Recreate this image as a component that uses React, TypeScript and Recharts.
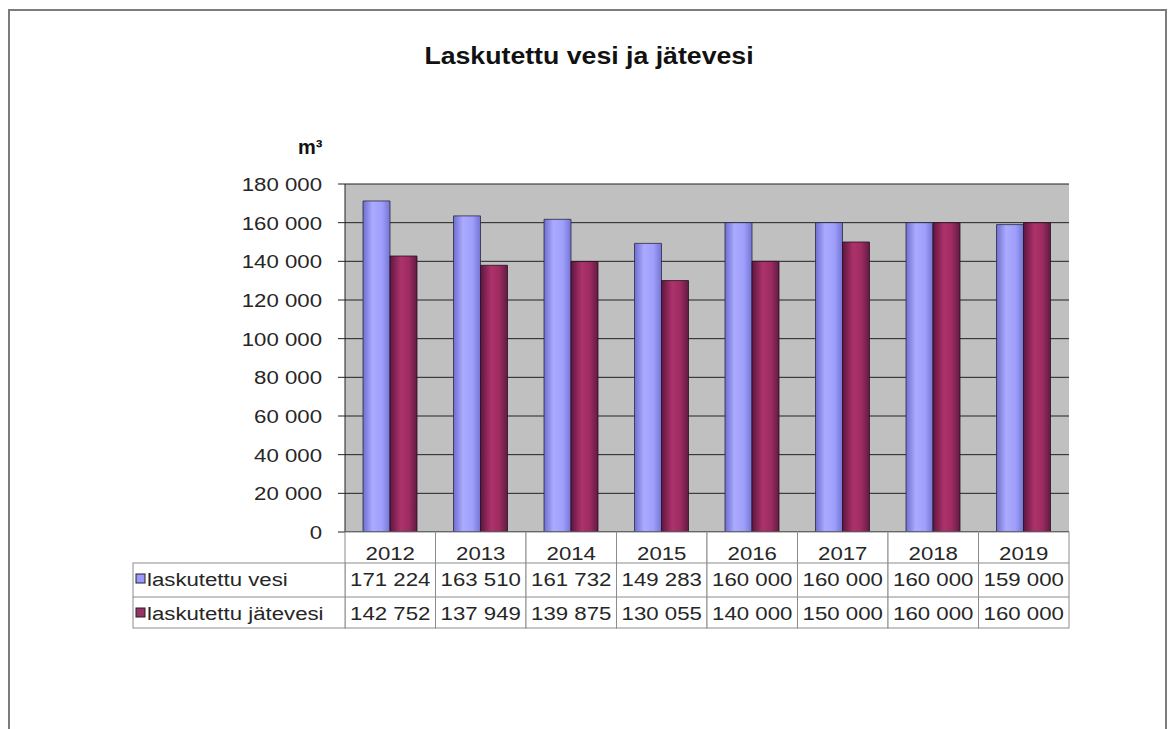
import { BarChart, Bar, XAxis, YAxis, CartesianGrid } from 'recharts';

const years = ['2012', '2013', '2014', '2015', '2016', '2017', '2018', '2019'];
const vesi = [171224, 163510, 161732, 149283, 160000, 160000, 160000, 159000];
const jatevesi = [142752, 137949, 139875, 130055, 140000, 150000, 160000, 160000];
const seriesNames = ['laskutettu vesi', 'laskutettu jätevesi'];
const yTicks = [0, 20000, 40000, 60000, 80000, 100000, 120000, 140000, 160000, 180000];

const data = years.map((year, i) => ({ year, vesi: vesi[i], jatevesi: jatevesi[i] }));

const PLOT_LEFT = 345;
const PLOT_RIGHT = 1069;
const BAND = (PLOT_RIGHT - PLOT_LEFT) / years.length;
const TABLE_LEFT = 133;
const FONT = 'Arial, "Liberation Sans", sans-serif';
const STRETCH = 1.17;
const BORDER = '#8c8c8c';

const fmt = (n: number) => n.toString().replace(/\B(?=(\d{3})+(?!\d))/g, ' ');

const StretchText = ({ x, y, anchor, children }: any) => (
    <text
        transform={`translate(${x},${y}) scale(${STRETCH},1)`}
        textAnchor={anchor}
        fontFamily={FONT}
        fontSize={19}
        fill="#262626"
    >
        {children}
    </text>
);

const YTick = ({ x, y, payload }: any) => (
    <StretchText x={x} y={y + 7} anchor="end">{fmt(payload.value)}</StretchText>
);

// the data table under the plot, drawn one column per category tick
const TableTick = ({ x, y, payload, index }: any) => {
    const i = payload.index ?? index;
    const left = x - BAND / 2;
    const top = y;
    const r1 = top + 31;
    const r2 = top + 65;
    const bottom = top + 96;
    return (
        <g>
            <rect x={left} y={top} width={BAND} height={bottom - top} fill="#fff" stroke={BORDER} />
            <line x1={left} x2={left + BAND} y1={r1} y2={r1} stroke={BORDER} />
            <line x1={left} x2={left + BAND} y1={r2} y2={r2} stroke={BORDER} />
            <StretchText x={x} y={top + 28} anchor="middle">{payload.value}</StretchText>
            <StretchText x={x} y={r1 + 23} anchor="middle">{fmt(vesi[i])}</StretchText>
            <StretchText x={x} y={r2 + 23} anchor="middle">{fmt(jatevesi[i])}</StretchText>
            {i === 0 && (
                <g>
                    <rect x={TABLE_LEFT} y={r1} width={left - TABLE_LEFT} height={bottom - r1} fill="#fff" stroke={BORDER} />
                    <line x1={TABLE_LEFT} x2={left} y1={r2} y2={r2} stroke={BORDER} />
                    <rect x={TABLE_LEFT + 3} y={r1 + 11} width={9} height={9} fill="#9999ff" stroke="#222" />
                    <rect x={TABLE_LEFT + 3} y={r2 + 11} width={9} height={9} fill="#993366" stroke="#222" />
                    <StretchText x={TABLE_LEFT + 14} y={r1 + 23} anchor="start">{seriesNames[0]}</StretchText>
                    <StretchText x={TABLE_LEFT + 14} y={r2 + 23} anchor="start">{seriesNames[1]}</StretchText>
                </g>
            )}
        </g>
    );
};

export default function App() {
    return (
        <div style={{ position: 'relative', width: 1173, height: 729, overflow: 'hidden', background: '#fff' }}>
            <style>{'body{margin:0;overflow:hidden}'}</style>
            <div style={{
                position: 'absolute', left: 8, top: 9, width: 1159, height: 760,
                border: '2px solid #7c7c7c', boxSizing: 'border-box'
            }} />
            <div style={{
                position: 'absolute', left: 0, top: 43, width: 1178, textAlign: 'center',
                fontFamily: FONT, fontWeight: 'bold', fontSize: 23, color: '#111',
                transform: 'scaleX(1.16)', transformOrigin: '589px 0'
            }}>
                Laskutettu vesi ja jätevesi
            </div>
            <div style={{
                position: 'absolute', left: 298, top: 136, fontFamily: FONT,
                fontWeight: 'bold', fontSize: 20, color: '#111'
            }}>
                m³
            </div>
            <div style={{ position: 'absolute', left: 0, top: 0 }}>
                <BarChart
                    width={1173}
                    height={729}
                    data={data}
                    margin={{ top: 184, right: 1173 - PLOT_RIGHT, left: PLOT_LEFT - 80, bottom: 0 }}
                    barGap={0}
                    barCategoryGap={0}
                >
                    <defs>
                        <linearGradient id="gVesi" x1="0" y1="0" x2="1" y2="0">
                            <stop offset="0%" stopColor="#6e6ed0" />
                            <stop offset="35%" stopColor="#aaaaff" />
                            <stop offset="70%" stopColor="#9f9ffc" />
                            <stop offset="100%" stopColor="#7474d4" />
                        </linearGradient>
                        <linearGradient id="gJate" x1="0" y1="0" x2="1" y2="0">
                            <stop offset="0%" stopColor="#5e1640" />
                            <stop offset="40%" stopColor="#ad326b" />
                            <stop offset="70%" stopColor="#9d2c60" />
                            <stop offset="100%" stopColor="#621a44" />
                        </linearGradient>
                    </defs>
                    <CartesianGrid vertical={false} stroke="#222" fill="#c0c0c0" />
                    <XAxis
                        dataKey="year"
                        height={197}
                        interval={0}
                        tickLine={false}
                        tickSize={0}
                        tickMargin={0}
                        axisLine={{ stroke: '#111' }}
                        tick={<TableTick />}
                    />
                    <YAxis
                        width={80}
                        domain={[0, 180000]}
                        ticks={yTicks}
                        interval={0}
                        tickSize={7}
                        tickMargin={16}
                        tickLine={{ stroke: '#222' }}
                        axisLine={{ stroke: '#222' }}
                        tick={<YTick />}
                    />
                    <Bar dataKey="vesi" name={seriesNames[0]} barSize={27} fill="url(#gVesi)" stroke="#2a2a40" strokeWidth={0.8} isAnimationActive={false} />
                    <Bar dataKey="jatevesi" name={seriesNames[1]} barSize={27} fill="url(#gJate)" stroke="#2a1020" strokeWidth={0.8} isAnimationActive={false} />
                </BarChart>
            </div>
        </div>
    );
}
